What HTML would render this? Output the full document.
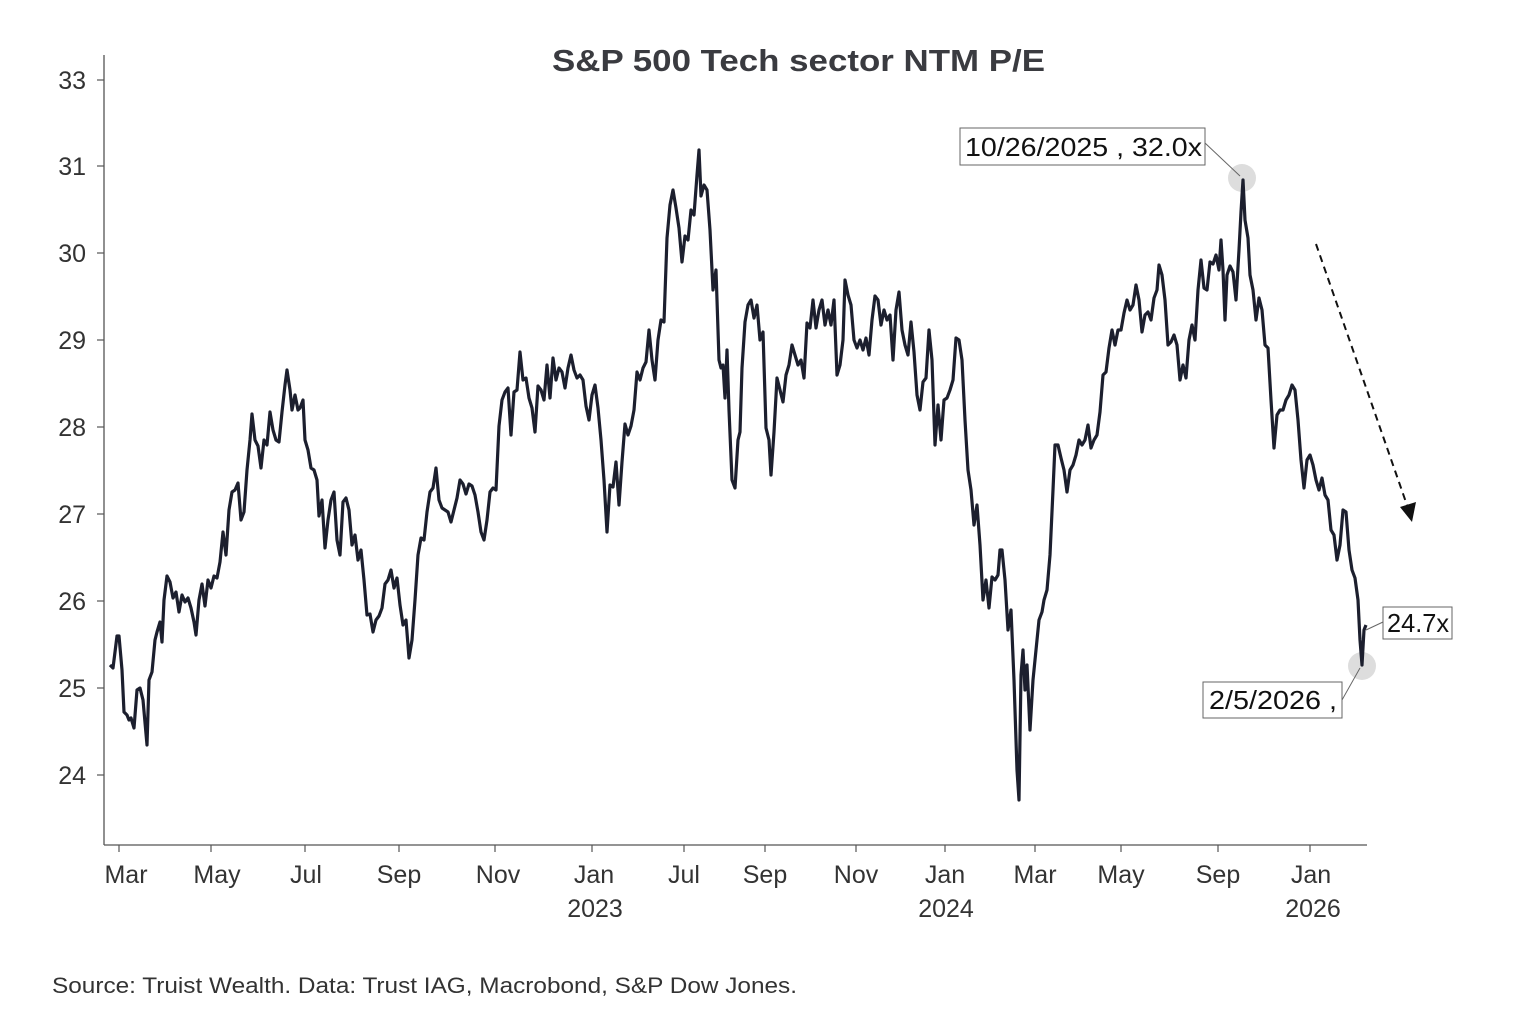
<!DOCTYPE html>
<html><head><meta charset="utf-8"><style>
body{margin:0;background:#fff;}
svg{display:block;font-family:"Liberation Sans","DejaVu Sans",sans-serif;}
</style></head><body>
<svg width="1536" height="1024" viewBox="0 0 1536 1024" xmlns="http://www.w3.org/2000/svg">
<rect width="1536" height="1024" fill="#fff"/>
<text x="552" y="71" font-size="31" font-weight="bold" fill="#3a3b40" textLength="493" lengthAdjust="spacingAndGlyphs">S&amp;P 500 Tech sector NTM P/E</text>
<g stroke="#555" stroke-width="1.3" fill="none">
<line x1="104" y1="55" x2="104" y2="845"/>
<line x1="104" y1="845" x2="1367" y2="845"/>
<g stroke-width="1.2">
<line x1="97" y1="80" x2="104" y2="80"/><line x1="97" y1="166" x2="104" y2="166"/><line x1="97" y1="253" x2="104" y2="253"/><line x1="97" y1="340" x2="104" y2="340"/><line x1="97" y1="427" x2="104" y2="427"/><line x1="97" y1="514" x2="104" y2="514"/><line x1="97" y1="601" x2="104" y2="601"/><line x1="97" y1="688" x2="104" y2="688"/><line x1="97" y1="775" x2="104" y2="775"/>
<line x1="119" y1="845" x2="119" y2="852"/><line x1="211" y1="845" x2="211" y2="852"/><line x1="305" y1="845" x2="305" y2="852"/><line x1="399" y1="845" x2="399" y2="852"/><line x1="495" y1="845" x2="495" y2="852"/><line x1="592" y1="845" x2="592" y2="852"/><line x1="684" y1="845" x2="684" y2="852"/><line x1="765" y1="845" x2="765" y2="852"/><line x1="856" y1="845" x2="856" y2="852"/><line x1="945" y1="845" x2="945" y2="852"/><line x1="1035" y1="845" x2="1035" y2="852"/><line x1="1121" y1="845" x2="1121" y2="852"/><line x1="1218" y1="845" x2="1218" y2="852"/><line x1="1310" y1="845" x2="1310" y2="852"/>
</g></g>
<g font-size="25" fill="#333" text-anchor="end">
<text x="86" y="89">33</text><text x="86" y="175">31</text><text x="86" y="262">30</text><text x="86" y="349">29</text><text x="86" y="436">28</text><text x="86" y="523">27</text><text x="86" y="610">26</text><text x="86" y="697">25</text><text x="86" y="784">24</text>
</g>
<g font-size="25" fill="#333" text-anchor="middle">
<text x="126" y="883">Mar</text><text x="217" y="883">May</text><text x="306" y="883">Jul</text><text x="399" y="883">Sep</text><text x="498" y="883">Nov</text><text x="594" y="883">Jan</text><text x="684" y="883">Jul</text><text x="765" y="883">Sep</text><text x="856" y="883">Nov</text><text x="945" y="883">Jan</text><text x="1035" y="883">Mar</text><text x="1121" y="883">May</text><text x="1218" y="883">Sep</text><text x="1311" y="883">Jan</text>
<text x="595" y="917">2023</text><text x="946" y="917">2024</text><text x="1313" y="917">2026</text>
</g>
<circle cx="1242" cy="178" r="14" fill="#ddd"/>
<circle cx="1362" cy="666" r="14" fill="#ddd"/>
<polyline fill="none" stroke="#1c1f2e" stroke-width="3.2" stroke-linejoin="round" points="110,665 113,668 117,636 119,636 122,670 124,712 127,715 129,720 131,718 134,728 137,690 140,688 143,700 147,745 149,680 152,672 155,640 157,632 160,622 162,642 164,600 167,576 170,582 173,598 176,592 179,612 182,595 185,602 188,598 191,608 194,622 196,635 199,600 202,584 205,606 208,580 211,588 214,576 217,578 220,562 223,532 226,555 229,510 232,492 235,490 238,483 241,520 244,512 247,470 250,440 252,414 255,440 258,446 261,468 264,440 267,445 270,412 273,430 276,440 279,442 282,412 285,385 287,370 290,390 292,410 295,395 298,410 300,408 303,400 305,440 308,450 311,468 314,470 317,480 319,516 322,500 325,548 328,520 331,500 334,492 337,540 340,555 343,502 346,498 349,510 352,545 355,535 358,560 361,550 364,580 367,615 370,614 373,632 376,620 379,616 382,608 385,584 388,580 391,570 394,588 397,578 400,605 403,625 406,620 409,658 412,640 415,600 418,555 421,538 424,540 427,512 430,492 433,488 436,468 439,500 442,508 445,510 448,512 451,522 454,510 457,498 460,480 463,484 466,494 469,484 472,486 475,495 478,512 481,532 484,540 487,520 490,492 493,488 496,490 499,426 502,400 505,392 508,388 511,435 514,392 517,390 520,352 523,380 526,378 529,398 532,408 535,432 538,386 541,390 544,400 547,365 550,398 553,358 556,380 559,368 562,372 565,388 568,368 571,355 574,370 577,378 580,375 583,380 586,406 589,420 592,395 595,385 598,408 601,440 604,480 607,532 610,485 613,487 616,462 619,505 622,462 625,424 628,435 631,426 634,410 637,372 640,380 643,368 646,362 649,330 652,360 655,380 658,340 661,320 664,322 667,238 670,205 673,190 676,208 679,228 682,262 685,236 688,240 691,210 694,215 697,175 699,150 701,196 704,185 707,190 710,230 713,290 716,270 719,360 721,368 723,365 725,398 727,350 729,410 732,480 735,488 738,440 740,432 742,368 745,322 748,305 751,300 754,318 757,305 760,340 763,332 766,428 769,440 771,475 774,432 777,378 780,390 783,402 786,375 789,365 792,345 795,355 798,365 801,360 804,378 807,323 810,328 813,300 816,328 819,310 822,300 825,325 828,310 831,325 834,300 837,375 840,365 843,340 845,280 848,295 851,305 854,340 857,348 860,340 863,350 866,338 869,355 872,320 875,296 878,300 881,325 884,310 887,320 890,315 893,360 896,310 899,292 902,330 905,345 908,355 911,322 914,352 917,395 920,410 923,382 926,378 929,330 932,360 935,445 938,405 941,440 944,400 947,398 950,390 953,380 956,338 959,340 962,360 965,420 968,470 971,490 974,525 977,505 980,545 983,600 986,580 989,608 992,577 995,580 998,575 1000,550 1002,550 1005,580 1008,630 1011,610 1014,680 1017,770 1019,800 1021,675 1023,650 1025,690 1027,665 1030,730 1033,680 1036,650 1039,620 1042,612 1044,600 1047,590 1050,555 1053,490 1055,445 1058,445 1061,458 1064,470 1067,492 1070,470 1073,465 1076,455 1079,440 1082,445 1085,440 1088,425 1091,448 1094,440 1097,435 1100,412 1103,375 1106,372 1109,348 1112,330 1115,345 1118,330 1121,330 1124,313 1127,300 1130,310 1133,305 1136,285 1139,300 1142,332 1145,315 1148,312 1151,320 1154,298 1157,290 1159,265 1162,275 1165,300 1168,345 1171,342 1174,335 1177,345 1180,380 1183,365 1186,378 1189,340 1192,325 1195,340 1198,290 1201,260 1204,288 1207,290 1210,262 1213,264 1216,255 1219,270 1221,240 1223,270 1225,320 1227,275 1230,266 1233,272 1236,300 1239,250 1241,212 1243,180 1245,220 1248,238 1250,275 1253,290 1256,320 1259,298 1262,310 1265,345 1268,348 1271,400 1274,448 1277,415 1280,410 1283,410 1286,400 1289,395 1292,385 1295,390 1298,420 1301,460 1304,488 1307,460 1310,455 1313,465 1316,480 1319,490 1322,478 1325,495 1328,500 1331,530 1334,535 1337,560 1340,545 1343,510 1346,512 1349,550 1352,570 1355,578 1358,600 1360,640 1362,665 1364,630 1366,625"/>
<g stroke="#666" stroke-width="1" fill="none">
<line x1="1205" y1="143" x2="1240" y2="176"/>
<line x1="1366" y1="630" x2="1383" y2="622"/>
<line x1="1342" y1="700" x2="1360" y2="668"/>
</g>
<rect x="960" y="128" width="245" height="37" fill="#fff" stroke="#666" stroke-width="1"/>
<text x="965" y="156" font-size="26" fill="#111" textLength="237" lengthAdjust="spacingAndGlyphs">10/26/2025 , 32.0x</text>
<rect x="1383" y="607" width="69" height="32" fill="#fff" stroke="#666" stroke-width="1"/>
<text x="1387" y="632" font-size="26" fill="#111" textLength="62" lengthAdjust="spacingAndGlyphs">24.7x</text>
<rect x="1203" y="682" width="139" height="36" fill="#fff" stroke="#666" stroke-width="1"/>
<text x="1209" y="709" font-size="26" fill="#111" textLength="128" lengthAdjust="spacingAndGlyphs">2/5/2026 ,</text>
<line x1="1316" y1="244" x2="1408" y2="508" stroke="#111" stroke-width="2" stroke-dasharray="7,5"/>
<polygon points="1412,522 1400,507 1416,502" fill="#111"/>
<text x="52" y="993" font-size="22" fill="#333" textLength="745" lengthAdjust="spacingAndGlyphs">Source: Truist Wealth. Data: Trust IAG, Macrobond, S&amp;P Dow Jones.</text>
</svg>
</body></html>
